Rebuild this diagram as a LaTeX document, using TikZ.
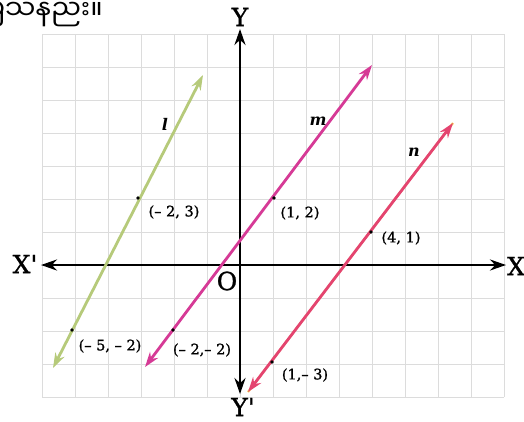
\documentclass[tikz,border=0pt]{standalone}
\usepackage{fontspec}
\setmainfont{DejaVu Serif}
\newfontfamily\labfont[FakeBold=1.2]{DejaVu Serif}
\newfontfamily\myan[Script=Myanmar]{Noto Sans Myanmar UI}
\usetikzlibrary{arrows.meta}
\definecolor{lcol}{RGB}{182,202,122}
\definecolor{mcol}{RGB}{214,58,150}
\definecolor{ncol}{RGB}{228,68,112}
\definecolor{nyel}{RGB}{246,204,90}
\definecolor{gridc}{RGB}{220,220,220}
\begin{document}
\begin{tikzpicture}[x=1pt,y=-1pt,
  gridline/.style={draw=gridc, line width=0.6pt},
  axisline/.style={line width=2.6pt, black, {Stealth[length=16pt,width=11pt]}-{Stealth[length=16pt,width=11pt]}},
  colline/.style={line width=2.8pt, {Stealth[length=15pt,width=10pt]}-{Stealth[length=15pt,width=10pt]}},
  ptdot/.style={circle, fill=black, inner sep=0pt, minimum size=3.6pt},
  axlabel/.style={font=\labfont\fontsize{25}{27}\selectfont, inner sep=0pt},
  ptlabel/.style={font=\labfont\fontsize{14.5}{16}\selectfont, inner sep=0pt},
  linelabel/.style={font=\fontsize{16}{18}\selectfont\bfseries\itshape, inner sep=0pt}]
\useasboundingbox (0,0) rectangle (524,421);
\clip (0,0) rectangle (524,421);
\fill[white] (0,0) rectangle (524,421);
% grid
\foreach \i in {0,...,14} \draw[gridline] (42+33*\i,34) -- (42+33*\i,397);
\foreach \j in {0,...,11} \draw[gridline] (42,34+33*\j) -- (504,34+33*\j);
% Burmese caption (cut at left edge, as in the reference)
\node[anchor=east, inner sep=0pt, font=\myan\fontsize{27}{29}\selectfont] (cap) at (103,9) {ပြသနည်း။};
% axes
\coordinate (xl) at (41,265); \coordinate (xr) at (506,265);
\coordinate (yt) at (240,29); \coordinate (yb) at (240,394);
\draw[axisline] (xl) -- (xr);
\draw[axisline] (yb) -- (yt);
\node[axlabel] (Xp) at (25,264) {X'};
\node[axlabel] (X) at (516,266) {X};
\node[axlabel] (Y) at (240,17) {Y};
\node[axlabel] (Yp) at (243,407) {Y'};
\node[axlabel] (O) at (227,281) {O};
% line l
\coordinate (lA) at (53,368); \coordinate (lB) at (203,75);
\draw[colline, lcol] (lA) -- (lB);
% line m
\coordinate (mA) at (145,367); \coordinate (mB) at (372,65);
\draw[colline, mcol] (mA) -- (mB);
% line n (with yellow fringe)
\coordinate (nA) at (248,392); \coordinate (nB) at (453,123);
\draw[line width=2.2pt, nyel, shift={(1.8,0.8)}] (nA) -- (nB);
\draw[colline, ncol] (nA) -- (nB);
% points
\node[ptdot] (p1) at (138,198) {};
\node[ptdot] (p2) at (72,330) {};
\node[ptdot] (p3) at (274,198) {};
\node[ptdot] (p4) at (173,330) {};
\node[ptdot] (p5) at (371,232) {};
\node[ptdot] (p6) at (272,362) {};
% point labels
\node[ptlabel] (t1) at (174,212) {(– 2, 3)};
\node[ptlabel] (t2) at (110,346) {(– 5, – 2)};
\node[ptlabel] (t3) at (300,213) {(1, 2)};
\node[ptlabel] (t4) at (202,350) {(– 2,– 2)};
\node[ptlabel] (t5) at (401,238) {(4, 1)};
\node[ptlabel] (t6) at (305,375) {(1,– 3)};
% line labels
\node[linelabel] (ll) at (165,124) {l};
\node[linelabel] (lm) at (318,121) {m};
\node[linelabel] (ln) at (414,152) {n};
\end{tikzpicture}
\end{document}
